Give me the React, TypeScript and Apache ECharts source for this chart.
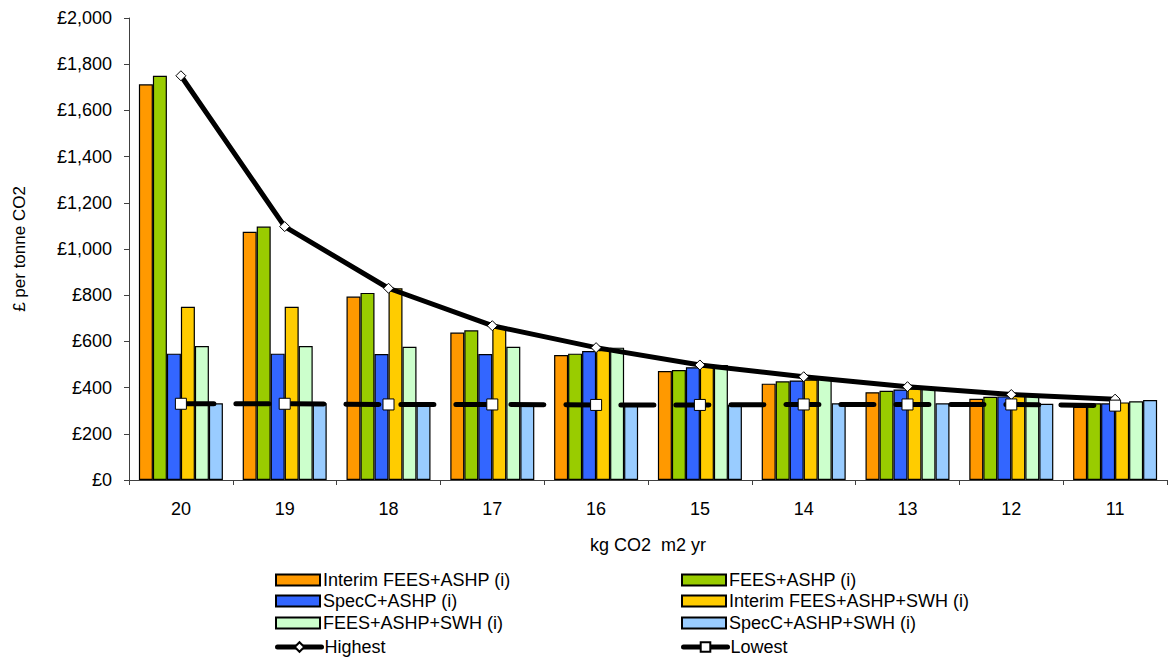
import React, { useEffect, useRef } from "react";
import * as echarts from "echarts";

const categories = ["20", "19", "18", "17", "16", "15", "14", "13", "12", "11"];

const interimFeesAshp = [1713, 1075, 794, 638, 541, 472, 417, 380, 352, 317];
const feesAshp = [1750, 1097, 810, 648, 547, 476, 427, 386, 360, 332];
const specCAshp = [547, 547, 545, 545, 558, 488, 431, 392, 362, 332];
const interimFeesAshpSwh = [750, 750, 830, 665, 563, 490, 435, 396, 365, 336];
const feesAshpSwh = [580, 580, 577, 577, 573, 498, 443, 400, 368, 341];
const specCAshpSwh = [332, 332, 329, 329, 325, 325, 332, 332, 330, 346];
const highest = [1750, 1097, 830, 668, 573, 498, 447, 404, 370, 350];
const lowest = [330, 330, 327, 327, 325, 325, 327, 327, 327, 322];

const FONT = "'Liberation Sans', Arial, sans-serif";

export default function App() {
  const ref = useRef<HTMLDivElement>(null);

  useEffect(() => {
    if (!ref.current) return;
    const chart = echarts.init(ref.current, undefined, { renderer: "svg" });

    const barSeries = (name: string, data: number[], color: string) => ({
      name,
      type: "bar",
      data,
      barWidth: 14,
      barGap: "0%",
      itemStyle: { color, borderColor: "#000", borderWidth: 1.2 },
    });

    const legendItem = (name: string, left: number, top: number, isLine = false) => {
      const o: any = {
        data: [name],
        left,
        top,
        itemWidth: 44,
        itemHeight: isLine ? 12 : 11,
        itemGap: 0,
        padding: 0,
        textStyle: { fontSize: 18, fontFamily: FONT, color: "#000", padding: [0, 0, 0, -2] },
      };
      if (isLine) {
        o.lineStyle = { width: 5, type: "solid", color: "#000", cap: "round" };
      } else {
        o.icon = "rect";
      }
      return o;
    };

    const col1 = 275;
    const col2 = 681;
    const rows = [571, 592, 614, 638];

    chart.setOption({
      animation: false,
      grid: { left: 129, right: 1, top: 18, bottom: 179, containLabel: false },
      legend: [
        legendItem("Interim FEES+ASHP (i)", col1, rows[0]),
        legendItem("FEES+ASHP (i)", col2, rows[0]),
        legendItem("SpecC+ASHP (i)", col1, rows[1]),
        legendItem("Interim FEES+ASHP+SWH (i)", col2, rows[1]),
        legendItem("FEES+ASHP+SWH (i)", col1, rows[2]),
        legendItem("SpecC+ASHP+SWH (i)", col2, rows[2]),
        legendItem("Highest", col1, rows[3], true),
        legendItem("Lowest", col2, rows[3], true),
      ],
      xAxis: {
        type: "category",
        data: categories,
        name: "kg CO2  m2 yr",
        nameLocation: "middle",
        nameGap: 56,
        nameTextStyle: { fontSize: 18, fontFamily: FONT, color: "#000" },
        axisLine: { lineStyle: { color: "#404040", width: 1 } },
        axisTick: { show: true, length: 5, alignWithLabel: false, lineStyle: { color: "#404040" } },
        axisLabel: { fontSize: 18, fontFamily: FONT, color: "#000", margin: 20 },
      },
      yAxis: {
        type: "value",
        min: 0,
        max: 2000,
        interval: 200,
        name: "£ per tonne CO2",
        nameLocation: "middle",
        nameRotate: 90,
        nameGap: 101,
        nameTextStyle: { fontSize: 17, fontFamily: FONT, color: "#000" },
        splitLine: { show: false },
        axisLine: { show: true, lineStyle: { color: "#404040", width: 1 } },
        axisTick: { show: true, length: 5, lineStyle: { color: "#404040" } },
        axisLabel: {
          fontSize: 18,
          fontFamily: FONT,
          color: "#000",
          margin: 17,
          formatter: (v: number) => "£" + v.toLocaleString("en-GB"),
        },
      },
      series: [
        barSeries("Interim FEES+ASHP (i)", interimFeesAshp, "#FF9900"),
        barSeries("FEES+ASHP (i)", feesAshp, "#99CC00"),
        barSeries("SpecC+ASHP (i)", specCAshp, "#3366FF"),
        barSeries("Interim FEES+ASHP+SWH (i)", interimFeesAshpSwh, "#FFCC00"),
        barSeries("FEES+ASHP+SWH (i)", feesAshpSwh, "#CCFFCC"),
        barSeries("SpecC+ASHP+SWH (i)", specCAshpSwh, "#99CCFF"),
        {
          name: "Highest",
          type: "line",
          data: highest,
          z: 5,
          symbol: "diamond",
          symbolSize: 10,
          showAllSymbol: true,
          lineStyle: { color: "#000", width: 5 },
          itemStyle: { color: "#fff", borderColor: "#000", borderWidth: 1 },
        },
        {
          name: "Lowest",
          type: "line",
          data: lowest,
          z: 5,
          symbol: "rect",
          symbolSize: 11,
          showAllSymbol: true,
          lineStyle: { color: "#000", width: 5, type: [33, 22], cap: "round" },
          itemStyle: { color: "#fff", borderColor: "#000", borderWidth: 1 },
        },
      ],
    });

    return () => chart.dispose();
  }, []);

  return (
    <div
      ref={ref}
      style={{ position: "absolute", left: 0, top: 0, width: 1168, height: 659, background: "#fff" }}
    />
  );
}
